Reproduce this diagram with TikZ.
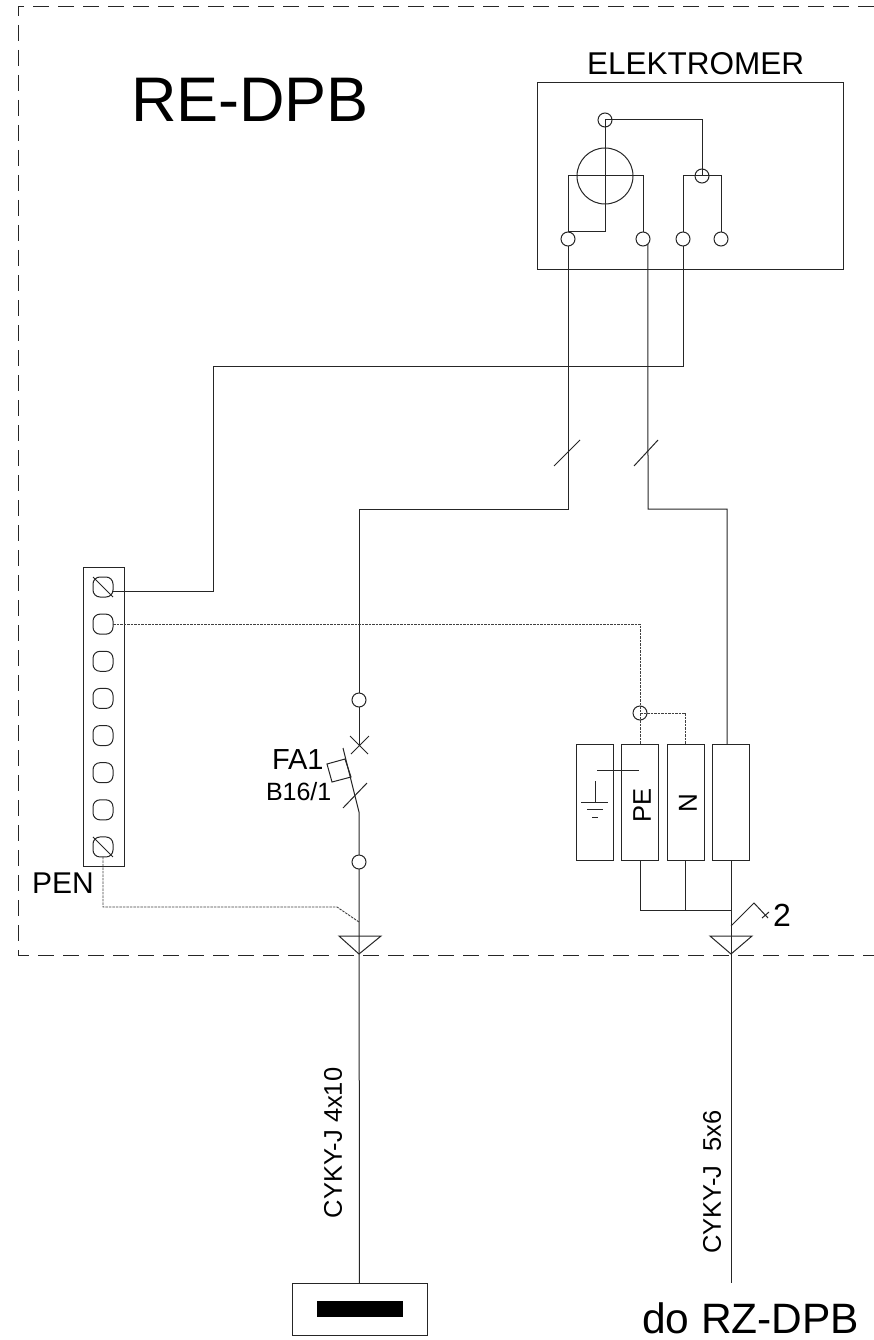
\documentclass[tikz,border=0pt]{standalone}
\usepackage{fontspec}
\setmainfont{Liberation Sans}
\usetikzlibrary{positioning}
\newcommand{\fs}[1]{\fontsize{#1}{#1}\selectfont}
\tikzstyle{every path}=[line width=1pt,color=black!85]
\tikzstyle{border}=[line width=0.8pt,color=black!85,dash pattern=on 16pt off 9pt]
\tikzstyle{pewire}=[line width=0.9pt,color=black!75,dash pattern=on 2.5pt off 1pt]
\tikzstyle{pin}=[circle,draw,inner sep=0pt,outer sep=0pt,minimum size=14pt]
\tikzstyle{term}=[rectangle,draw,rounded corners=7pt,inner sep=0pt,outer sep=0pt,minimum size=20pt]
\tikzstyle{cell}=[rectangle,draw,inner sep=0pt,outer sep=0pt,minimum width=37pt,minimum height=116pt]
\tikzstyle{txt}=[inner sep=0pt,outer sep=0pt,anchor=base west,color=black]
\tikzstyle{vtxt}=[inner sep=0pt,outer sep=0pt,rotate=90,color=black]

\begin{document}
\begin{tikzpicture}[x=1pt,y=-1pt,node distance=37.14pt]
  \useasboundingbox (0,0) rectangle (874,1340);
  \draw[border] (874,6) -- (18,6) -- (18,955) -- (874,955);

  \node[txt,font=\fs{63}]     (title) at (131,122) {RE-DPB};
  \node[txt,font=\fs{31.5}]   (emlabel) at (587,75) {ELEKTROMER};
  \node[txt,font=\fs{29}]     (fa) at (272,769) {FA1};
  \node[txt,font=\fs{25}]     (fatype) at (266,800) {B16/1};
  \node[txt,font=\fs{30}]     (pen) at (32,893) {PEN};
  \node[txt,font=\fs{32}]     (two) at (773,926) {2};
  \node[txt,font=\fs{42.5}]   (rz) at (642,1333) {do RZ-DPB};
  \node[vtxt,font=\fs{25.5}]  (cab1) at (333,1143) {CYKY-J 4x10};
  \node[vtxt,font=\fs{25.5}]  (cab2) at (712,1182) {CYKY-J\ \ 5x6};

  % elektromer
  \node[rectangle,draw,outer sep=0pt,minimum width=306pt,minimum height=186pt] (em) at (690.5,176) {};
  \node[circle,draw,inner sep=0pt,outer sep=0pt,minimum size=56pt] (coil) at (605,176) {};
  \node[pin] (top) at (605,120) {};
  \node[pin] (pot) at (702,176) {};
  \node[pin] (p1) at (568,239) {};
  \node[pin] (p2) at (643,239) {};
  \node[pin] (p3) at (683,239) {};
  \node[pin] (p4) at (721,239) {};

  \draw (p1) -- (p1 |- coil.center) -- (p2 |- coil.center) -- (p2);
  \draw (p3) -- (p3 |- pot.center) -- (p4 |- pot.center) -- (p4);
  \draw (top.center) -- (605,232) -- (p1.north);
  \draw (top.center) -| (pot.center);

  % svorkovnica
  \node[rectangle,draw,outer sep=0pt,minimum width=41pt,minimum height=299pt] (strip) at (103.5,716.5) {};
  \node[term] (t1) at (103,587) {};
  \node[term] (t2) [below of=t1] {};
  \node[term] (t3) [below of=t2] {};
  \node[term] (t4) [below of=t3] {};
  \node[term] (t5) [below of=t4] {};
  \node[term] (t6) [below of=t5] {};
  \node[term] (t7) [below of=t6] {};
  \node[term] (t8) [below of=t7] {};
  \draw (t1.north west) -- (t1.south east);
  \draw (t8.north west) -- (t8.south east);

  % istic
  \node[pin] (fin) at (359,700) {};
  \node[pin] (fout) at (359,862) {};
  \coordinate (blade) at (359,812);
  \coordinate (fcross) at (359,745);
  \draw (fin) -- (fcross);
  \draw (350,736) -- (368,754) (369,736) -- (351,754);
  \draw (343,748) -- (blade) -- (fout);
  \draw (327,764) -- (345,759) -- (351,777) -- (332,782) -- cycle;
  \draw (343,808) -- (367,783);

  % zvodic
  \node[cell] (b1) at (594.5,802) {};
  \node[cell] (b2) [right=8.5pt of b1] {};
  \node[cell] (b3) [right=8.5pt of b2] {};
  \node[cell] (b4) [right=8.5pt of b3] {};
  \node[vtxt,font=\fs{25.5}] (pe) at (642,805) {PE};
  \node[vtxt,font=\fs{26}] (n) at (688,803) {N};
  \node[pin] (pec) at (640,713) {};
  \draw (595,781) -- (595,802);
  \draw (581,802) -- (608,802) (587,809) -- (603,809) (592,817) -- (598,817);
  \draw (597,770) -- (639,770);

  % vodice
  \coordinate (j1) at (568,509);
  \coordinate (j2) at (648,509);
  \coordinate (j3) at (727,509);
  \coordinate (j4) at (683,366);
  \coordinate (j5) at (213,591);
  \coordinate (bus) at (731,910);
  \coordinate (end2) at (731,1283);
  \coordinate (k2) at (337,907);
  \coordinate (k3) at (359,922);

  \draw (p1) -- (j1) -| (fin);
  \draw (p2.-45) -- (j2) -- (j3) -- (j3 |- b4.north);
  \draw (p3) -- (j4) -| (j5) -- ([yshift=-4pt]t1.east);
  \draw (554,466) -- (580,440);
  \draw (634,466) -- (658,440);

  \draw[pewire] (t2) -| (pec.center) -- (b2.north);
  \draw[pewire] (pec.center) -| (b3.north);
  \draw[pewire] (t8) |- (k2) -- (k3);

  \draw (b2) |- (bus);
  \draw (b3) -- (b3 |- bus);
  \draw (b4) -- (end2);
  \draw (731,926) -- (754,903) -- (768,918);
  \draw (762,918) -- (769,912);
  \draw (710,936) -- (752,936) -- (731,954) -- cycle;

  % vyvod
  \node[rectangle,draw,outer sep=0pt,minimum width=135pt,minimum height=52pt] (box) at (359.5,1309) {};
  \node[rectangle,fill=black,inner sep=0pt,minimum width=86pt,minimum height=16pt] (bar) at (360,1309) {};
  \draw (fout) -- (box);
  \draw (339,936) -- (381,936) -- (359,954) -- cycle;
\end{tikzpicture}
\end{document}
